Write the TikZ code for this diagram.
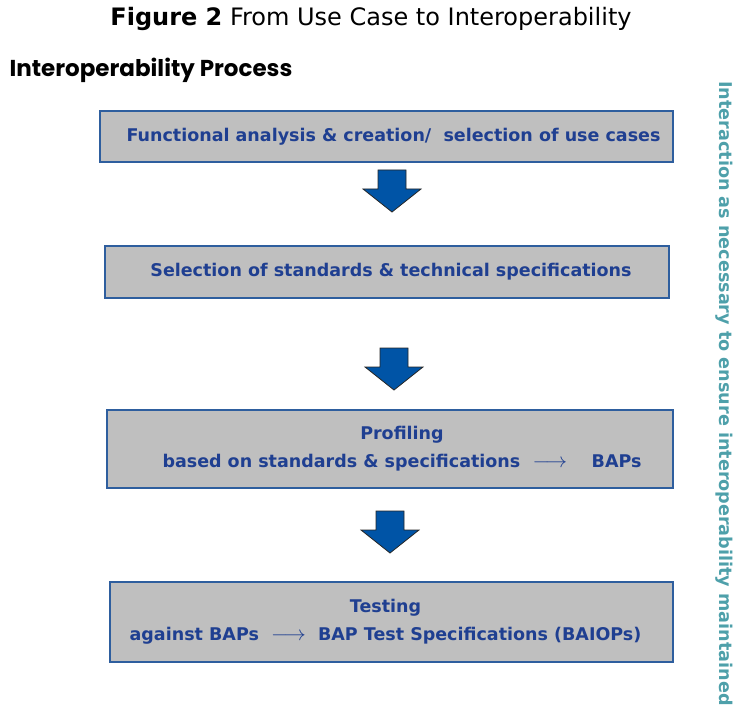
\documentclass[tikz,border=0pt]{standalone}
\usepackage{fontspec}
\setmainfont{DejaVu Sans}
\newfontfamily\headfont{Poppins}
\definecolor{boxgray}{RGB}{191,191,191}
\definecolor{boxline}{RGB}{46,94,158}
\definecolor{textblue}{RGB}{31,63,145}
\definecolor{arrowblue}{RGB}{0,84,166}
\definecolor{sideteal}{RGB}{78,160,170}
\newcommand{\longto}{\scalebox{1.25}[1.2]{$\longrightarrow$}}
\begin{document}
\begin{tikzpicture}
    [
    x=1pt,y=-1pt,
    stage/.style={draw=boxline,line width=1.5pt,fill=boxgray,text=textblue,
      font=\fontsize{17.5}{28}\selectfont\bfseries,align=center,inner sep=0pt},
    blockdown/.pic={\draw [draw=black!85,fill=arrowblue,line width=0.8pt]
      (-14,0) -- (14,0) -- (14,19) -- (29,19) -- (0,42) -- (-29,19) -- (-14,19) -- cycle;},
    ]
    \useasboundingbox (0,0) rectangle (734,706);
    % headings
    \node (title) at (371,19) {\fontsize{24}{26}\selectfont\textbf{Figure 2} From Use Case to Interoperability};
    \node (proc) [anchor=west] at (6,70) {\headfont\fontsize{23}{25}\selectfont\bfseries Interoperability Process};
    % the four stages
    \node (usecase) [stage,minimum width=573,minimum height=51] at (386.5,136.5)
      {\hspace*{14pt}Functional analysis \& creation/\ \ selection of use cases};
    \node (select) [stage,minimum width=564,minimum height=52] at (387,272)
      {\hspace*{8pt}Selection of standards \& technical specifications};
    \node (profile) [stage,minimum width=566,minimum height=78] at (390,449)
      {\hspace*{24pt}Profiling\\\hspace*{24pt}based on standards \& specifications\ \ \longto\ \ \ \ BAPs};
    \node (test) [stage,minimum width=563,minimum height=80] at (391.5,622)
      {Testing\hspace*{12pt}\\against BAPs\ \ \longto\ \ BAP Test Specifications (BAIOPs)\hspace*{12pt}};
    % block arrows
    \pic (a1) at (392,170) {blockdown};
    \pic (a2) at (394,348) {blockdown};
    \pic (a3) at (390,511) {blockdown};
    % side note
    \node (side) [rotate=-90,text=sideteal,font=\fontsize{17.6}{18}\selectfont\bfseries] at (724.5,393.5)
      {Interaction as necessary to ensure interoperability maintained};
\end{tikzpicture}
\end{document}
